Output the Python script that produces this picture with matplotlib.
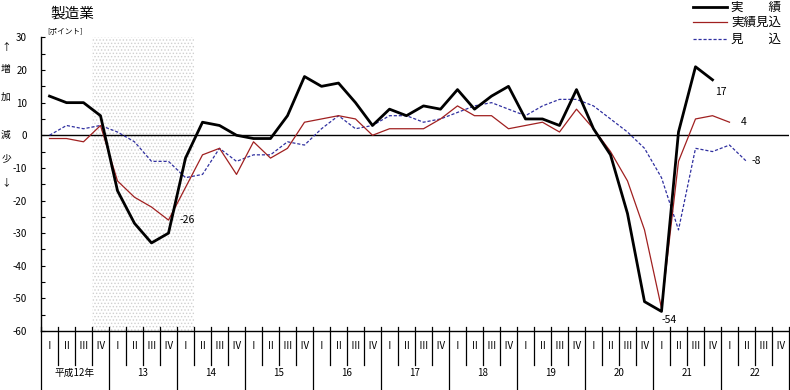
import matplotlib.pyplot as plt
import numpy as np
from matplotlib.lines import Line2D

plt.rcParams['font.family'] = ['Noto Sans CJK JP', 'DejaVu Sans']
plt.rcParams['axes.unicode_minus'] = False
plt.rcParams['hatch.linewidth'] = 0.6

# quarter / year labels (平成12年 I .. 22 IV)
quarters = ['Ⅰ', 'Ⅱ', 'Ⅲ', 'Ⅳ'] * 11
years = ['平成12年', '13', '14', '15', '16', '17', '18', '19', '20', '21', '22']

# 実績 (actual)
actual = [12, 10, 10, 6, -17, -27, -33, -30, -7, 4, 3, 0,
          -1, -1, 6, 18, 15, 16, 10, 3, 8, 6, 9, 8,
          14, 8, 12, 15, 5, 5, 3, 14, 2, -6, -24, -51,
          -54, 1, 21, 17]
# 実績見込 (estimate of actual)
estimate = [-1, -1, -2, 3, -14, -19, -22, -26, -16, -6, -4, -12,
            -2, -7, -4, 4, 5, 6, 5, 0, 2, 2, 2, 5,
            9, 6, 6, 2, 3, 4, 1, 8, 2, -5, -14, -29,
            -53, -8, 5, 6, 4]
# 見込 (forecast)
forecast = [0, 3, 2, 3, 1, -2, -8, -8, -13, -12, -4, -8,
            -6, -6, -2, -3, 2, 6, 2, 3, 6, 6, 4, 5,
            7, 9, 10, 8, 6, 9, 11, 11, 9, 5, 1, -4,
            -13, -29, -4, -5, -3, -8]

W, H = 790, 390
fig = plt.figure(figsize=(W / 100, H / 100), dpi=100)
ax = fig.add_axes([41 / W, 1 - 331 / H, 748 / W, (331 - 37.4) / H])

# recession shading (12 IV - 14 I)
ax.axvspan(2.5, 8.5, facecolor='white', hatch='.....', edgecolor='#d0d0d0', lw=0, zorder=0)

ax.axhline(0, color='black', lw=1, zorder=1)

ax.plot(np.arange(len(forecast)), forecast, color='#3030a0', lw=0.9, ls=(0, (2.5, 1.5)), zorder=2)
ax.plot(np.arange(len(estimate)), estimate, color='#a02020', lw=0.9, zorder=3)
ax.plot(np.arange(len(actual)), actual, color='black', lw=2.0, zorder=4)

# value labels
ax.annotate(str(actual[-1]), (len(actual) - 1, actual[-1]), xytext=(3, -12),
            textcoords='offset pixels', fontsize=7.5, ha='left', va='center')
ax.annotate(str(estimate[-1]), (len(estimate) - 1, estimate[-1]), xytext=(11, 0),
            textcoords='offset pixels', fontsize=7.5, ha='left', va='center')
ax.annotate(str(forecast[-1]), (len(forecast) - 1, forecast[-1]), xytext=(5, 0),
            textcoords='offset pixels', fontsize=7.5, ha='left', va='center')
ax.annotate(str(estimate[7]), (7, estimate[7]), xytext=(11, 0),
            textcoords='offset pixels', fontsize=7.5, ha='left', va='center')
ax.annotate(str(actual[36]), (36, actual[36]), xytext=(0, -9),
            textcoords='offset pixels', fontsize=7.5, ha='left', va='center')

ax.set_xlim(-0.5, 43.5)
ax.set_ylim(-60, 30)
ax.set_yticks(range(-60, 31, 10))
ax.set_yticks(range(-60, 31, 5), minor=True)
ax.tick_params(axis='y', which='both', direction='in', length=3, width=0.8,
               labelsize=7, pad=10)
ax.set_xticks([])
for s in ['top', 'right']:
    ax.spines[s].set_visible(False)
ax.spines['left'].set_linewidth(1)
ax.spines['bottom'].set_linewidth(1)

# category table below the axis
trans = ax.get_xaxis_transform()
hpx = 331 - 37.4
for k in range(len(quarters) + 1):
    yb = -(390 - 331) / hpx if k % 4 == 0 else -(365 - 331) / hpx
    ax.plot([k - 0.5, k - 0.5], [4 / hpx, yb], transform=trans, clip_on=False,
            color='black', lw=0.9)
for i, q in enumerate(quarters):
    ax.text(i, -(346 - 331) / hpx, q, transform=trans, ha='center', va='center', fontsize=7)
for j, yr in enumerate(years):
    ax.text(4 * j + 1.5, -(373 - 331) / hpx, yr, transform=trans, ha='center', va='center', fontsize=7)

# titles
fig.text(50 / W, 1 - 14 / H, '製造業', fontsize=10.5, va='center')
fig.text(47 / W, 1 - 31 / H, '[ポイント]', fontsize=5.5, va='center')
for t, yy in [('↑', 47), ('増', 69), ('加', 97), ('減', 135), ('少', 158), ('↓', 182)]:
    fig.text(6 / W, 1 - yy / H, t, fontsize=7, ha='center', va='center')

# legend
for lbl, yy, kw in [('実　　績', 7, dict(color='black', lw=2.0)),
                    ('実績見込', 22, dict(color='#a02020', lw=0.9)),
                    ('見　　込', 39, dict(color='#3030a0', lw=0.9, ls=(0, (2.5, 1.5))))]:
    fig.add_artist(Line2D([693 / W, 727 / W], [1 - yy / H, 1 - yy / H], transform=fig.transFigure, **kw))
    fig.text(731 / W, 1 - yy / H, lbl, fontsize=9, va='center')

fig.savefig('out.png', dpi=100)
